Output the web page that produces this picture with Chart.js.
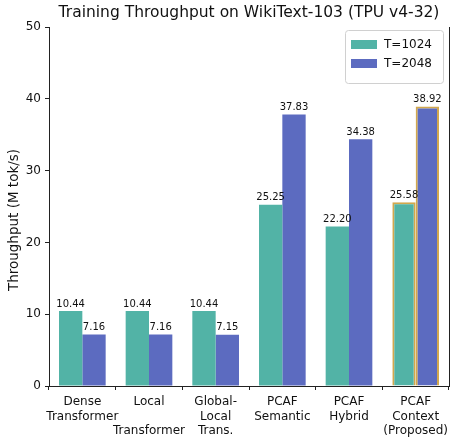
<!DOCTYPE html>
<html><head><meta charset="utf-8">
<script src="https://cdn.jsdelivr.net/npm/chart.js@4.4.1/dist/chart.umd.min.js"></script>
<style>html,body{margin:0;padding:0;background:#fff}#wrap{width:457px;height:445px}</style>
</head><body><div id="wrap"><canvas id="c" width="457" height="445"></canvas></div>
<script>
const categories = [["Dense","Transformer"],["Local","","Transformer"],["Global-","Local","Trans."],["PCAF","Semantic"],["PCAF","Hybrid"],["PCAF","Context","(Proposed)"]];
const seriesNames = ["T=1024","T=2048"];
const t1024 = [10.44,10.44,10.44,25.25,22.20,25.58];
const t2048 = [7.16,7.16,7.15,37.83,34.38,38.92];
const yTicks = [0,10,20,30,40,50];
const titleText = "Training Throughput on WikiText-103 (TPU v4-32)";
const yTitle = "Throughput (M tok/s)";
const highlighted = [false,false,false,false,false,true];

const FONT = "'DejaVu Sans', sans-serif";
const colors = ["#52b3a6","#5c6bc0"];
const edge = "#d2a84e";

const overlay = {
  id:'overlay',
  afterDatasetsDraw(chart){
    const ctx = chart.ctx, ca = chart.chartArea;
    ctx.save();
    // right spine
    ctx.strokeStyle = '#222'; ctx.lineWidth = 1;
    ctx.beginPath(); ctx.moveTo(ca.right+0.5, ca.top); ctx.lineTo(ca.right+0.5, ca.bottom); ctx.stroke();
    // value labels
    ctx.fillStyle = '#111'; ctx.font = "10px " + FONT; ctx.textAlign='center'; ctx.textBaseline='bottom';
    chart.data.datasets.forEach((ds,i)=>{
      const meta = chart.getDatasetMeta(i);
      meta.data.forEach((bar,j)=>{
        ctx.fillText(ds.data[j].toFixed(2), bar.x, bar.y-2);
      });
    });
    // title
    ctx.font = "15.5px " + FONT; ctx.fillStyle='#111'; ctx.textBaseline='middle';
    ctx.fillText(titleText, (ca.left+ca.right)/2, 13);
    // y axis title
    ctx.save();
    ctx.translate(14, 220); ctx.rotate(-Math.PI/2);
    ctx.font = "13.5px " + FONT; ctx.textAlign='center'; ctx.textBaseline='middle';
    ctx.fillText(yTitle, 0, 0);
    ctx.restore();
    // legend
    const lx = 345, ly = 30, lw = 98, lh = 53;
    ctx.fillStyle='rgba(255,255,255,0.85)'; ctx.strokeStyle='#d0d0d0'; ctx.lineWidth=1;
    ctx.beginPath(); ctx.roundRect(lx+0.5, ly+0.5, lw, lh, 3); ctx.fill(); ctx.stroke();
    ctx.font = "12px " + FONT; ctx.textAlign='left'; ctx.textBaseline='middle';
    seriesNames.forEach((n,i)=>{
      const y = 44 + i*19;
      ctx.fillStyle = colors[i];
      ctx.fillRect(351, y-4, 26, 9);
      ctx.fillStyle = '#111';
      ctx.fillText(n, 384, y+1);
    });
    ctx.restore();
  }
};

new Chart(document.getElementById('c'), {
  type:'bar',
  data:{
    labels: categories,
    datasets:[
      {label:seriesNames[0], data:t1024, backgroundColor:colors[0],
       borderColor: highlighted.map(h=>h?edge:'rgba(0,0,0,0)'), borderWidth: highlighted.map(h=>h?2:0),
       categoryPercentage:0.7, barPercentage:1.0},
      {label:seriesNames[1], data:t2048, backgroundColor:colors[1],
       borderColor: highlighted.map(h=>h?edge:'rgba(0,0,0,0)'), borderWidth: highlighted.map(h=>h?2:0),
       categoryPercentage:0.7, barPercentage:1.0}
    ]
  },
  options:{
    responsive:false, animation:false, devicePixelRatio:1,
    layout:{padding:{top:27,right:8,left:0,bottom:0}},
    plugins:{legend:{display:false}, title:{display:false}, tooltip:{enabled:false}},
    scales:{
      x:{
        grid:{display:true, drawOnChartArea:false, drawTicks:true, tickLength:4, tickColor:'#222'},
        border:{display:true, color:'#222', width:1},
        ticks:{color:'#111', font:{family:FONT, size:12, lineHeight:1.2}, padding:5, maxRotation:0, autoSkip:false},
        afterFit(s){ s.height = 59; }
      },
      y:{
        min:0, max:50,
        afterBuildTicks(s){ s.ticks = yTicks.map(v=>({value:v})); },
        grid:{display:true, drawOnChartArea:false, drawTicks:true, tickLength:4, tickColor:'#222'},
        border:{display:true, color:'#222', width:1},
        ticks:{color:'#111', font:{family:FONT, size:12}, padding:4},
        afterFit(s){ s.width = 49; }
      }
    }
  },
  plugins:[overlay]
});
</script></body></html>
